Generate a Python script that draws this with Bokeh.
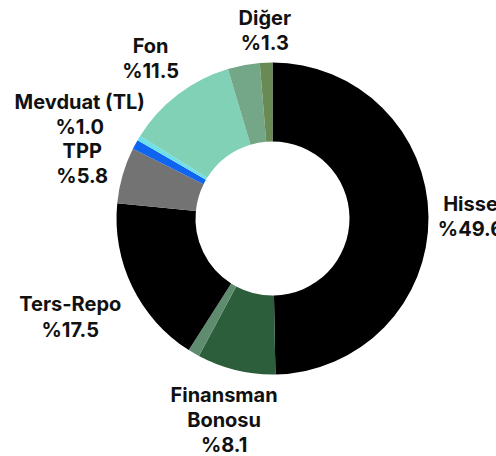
import math
from bokeh.plotting import figure
from bokeh.models import Range1d, ColumnDataSource
from bokeh.core.properties import value
from bokeh.embed import file_html
from bokeh.resources import INLINE

# ---- data ----
names = ["Hisse", "Finansman Bonosu", "Diğer 2", "Ters-Repo", "TPP",
         "Mevduat (TL)", "Diğer 3", "Fon", "Diğer 4", "Diğer"]
display = ["Hisse", "Finansman\nBonosu", None, "Ters-Repo", "TPP",
           "Mevduat (TL)", None, "Fon", None, "Diğer"]
values = [49.6, 8.1, 1.2, 17.5, 5.8, 1.0, 0.5, 11.5, 3.3, 1.3]
colors = ["#000000", "#2d5e3c", "#5f8c6e", "#000000", "#737373",
          "#0f65f0", "#6ee0ea", "#80d1b6", "#74a788", "#6a8a55"]

# ---- layout / style ----
W, H = 496, 456
cx, cy = 272, 238
r_out, r_in = 156, 77
label_r = [198, 207, 0, 225, 198, 219, 0, 201, 0, 188]
FONT = "Inter"

p = figure(width=W, height=H, output_backend="svg", toolbar_location=None,
           x_range=Range1d(0, W), y_range=Range1d(0, H), min_border=0)
p.axis.visible = False
p.grid.visible = False
p.outline_line_color = None
p.background_fill_color = "white"

total = sum(values)
starts, ends, mids = [], [], []
c = 0.0
for v in values:
    a0 = math.pi / 2 - 2 * math.pi * c / total
    c += v
    a1 = math.pi / 2 - 2 * math.pi * c / total
    starts.append(a0)
    ends.append(a1)
    mids.append((a0 + a1) / 2)

src = ColumnDataSource(dict(x=[cx] * len(values), y=[cy] * len(values),
                            start=starts, end=ends, color=colors))
p.annular_wedge(x="x", y="y", inner_radius=r_in, outer_radius=r_out,
                start_angle="start", end_angle="end", direction="clock",
                fill_color="color", line_color=None, source=src)

lx, ly, lt = [], [], []
for d, v, m, r in zip(display, values, mids, label_r):
    if d is None:
        continue
    lx.append(cx + r * math.cos(m))
    ly.append(cy + r * math.sin(m))
    lt.append(f"{d}\n%{v:.1f}")

p.text(x=lx, y=ly, text=lt, text_align="center", text_baseline="middle",
       text_font=value(FONT), text_font_style="bold", text_font_size="20px",
       text_line_height=1.05, text_color="#111111")

open("out.html", "w").write(file_html(p, INLINE))
